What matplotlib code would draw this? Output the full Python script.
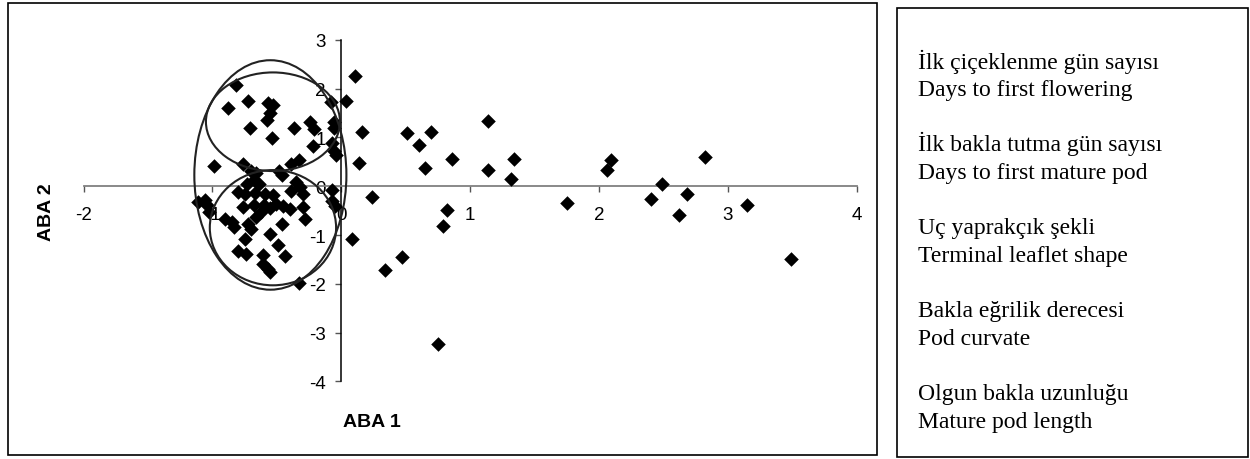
import matplotlib.pyplot as plt
from matplotlib.patches import Ellipse, Rectangle

# ABA 1 / ABA 2 scores
aba1 = [0.11, 0.04, 0.16, 0.51, 0.70, 0.60, 1.14, 0.14, 0.65, 0.86, 1.14, 1.34, 1.32,
        0.24, 0.82, 1.75, 0.79, 0.08, 0.47, 0.34, 0.75, 2.09, 2.06, 2.82, 2.49, 2.40,
        2.68, 2.62, 3.15, 3.49,
        -0.08, -0.06, -0.06, -0.07, -0.06, -0.04, -0.07, -0.07, -0.05,
        -0.82, -0.72, -0.88, -0.57, -0.53, -0.55, -0.58, -0.71, -0.37, -0.24, -0.21,
        -0.54, -0.22, -0.99, -0.76, -0.39, -0.33,
        -0.70, -0.66, -0.48, -0.46, -0.73, -0.68, -0.64, -0.35, -0.32,
        -0.80, -0.75, -0.67, -0.59, -0.53, -0.39, -0.30,
        -1.11, -1.06, -1.04, -0.76, -0.68, -0.60, -0.55, -0.51, -0.45, -0.40, -0.30,
        -1.03, -0.66, -0.62, -0.28, -0.90, -0.85, -0.83, -0.72, -0.70, -0.46,
        -0.55, -0.75, -0.49, -0.44, -0.80, -0.74, -0.61, -0.61, -0.57, -0.55, -0.33]
aba2 = [2.26, 1.75, 1.12, 1.08, 1.12, 0.85, 1.34, 0.48, 0.37, 0.56, 0.33, 0.56, 0.14,
        -0.23, -0.49, -0.34, -0.82, -1.09, -1.46, -1.71, -3.24, 0.53, 0.34, 0.59, 0.04, -0.26,
        -0.15, -0.60, -0.38, -1.50,
        1.73, 1.32, 1.20, 0.88, 0.73, 0.63, -0.07, -0.30, -0.40,
        2.07, 1.75, 1.60, 1.71, 1.66, 1.49, 1.35, 1.20, 1.20, 1.32, 1.18,
        0.98, 0.83, 0.42, 0.46, 0.46, 0.53,
        0.31, 0.27, 0.32, 0.22, 0.05, 0.12, 0.05, 0.09, -0.02,
        -0.12, -0.15, -0.14, -0.17, -0.19, -0.09, -0.15,
        -0.32, -0.29, -0.38, -0.43, -0.38, -0.38, -0.45, -0.36, -0.40, -0.47, -0.43,
        -0.53, -0.63, -0.53, -0.67, -0.67, -0.73, -0.84, -0.77, -0.87, -0.77,
        -0.97, -1.08, -1.21, -1.42, -1.32, -1.38, -1.40, -1.59, -1.69, -1.76, -1.98]

# group ellipses: centre x, centre y, width, height
ell_cx = [-0.55, -0.53, -0.53]
ell_cy = [0.23, 1.32, -0.85]
ell_w = [1.18, 1.04, 0.98]
ell_h = [4.70, 2.02, 2.36]

legend_lines = [
    ("İlk çiçeklenme gün sayısı", "Days to first flowering"),
    ("İlk bakla tutma gün sayısı", "Days to first mature pod"),
    ("Uç yaprakçık şekli", "Terminal leaflet shape"),
    ("Bakla eğrilik derecesi", "Pod curvate"),
    ("Olgun bakla uzunluğu", "Mature pod length"),
]

fig = plt.figure(figsize=(12.5, 4.6), dpi=100)
ax = fig.add_axes([0.0668, 0.1685, 0.6186, 0.743])

ax.scatter(aba1, aba2, marker='D', s=55, color='black', zorder=3, linewidths=0)
for cx, cy, w, h in zip(ell_cx, ell_cy, ell_w, ell_h):
    ax.add_patch(Ellipse((cx, cy), w, h, fill=False, edgecolor='#222222', lw=1.5, zorder=4))

ax.set_xlim(-2, 4)
ax.set_ylim(-4, 3)
ax.spines['left'].set_position(('data', 0))
ax.spines['bottom'].set_position(('data', 0))
ax.spines['top'].set_visible(False)
ax.spines['right'].set_visible(False)
ax.spines['bottom'].set_color('#808080')
ax.spines['left'].set_color('black')
ax.spines['bottom'].set_linewidth(1.3)
ax.spines['left'].set_linewidth(1.1)

ax.set_xticks(range(-2, 5))
ax.set_yticks(range(-4, 4))
ax.tick_params(axis='x', direction='out', length=4, width=1, color='#555555',
               pad=10, labelsize=13.5, labelfontfamily='Liberation Sans')
ax.tick_params(axis='y', direction='out', length=4, width=1, color='#555555',
               pad=7, labelsize=13.5, labelfontfamily='Liberation Sans')
ax.set_xticklabels([str(v) for v in range(-2, 5)])
ax.set_yticklabels([str(v) for v in range(-4, 4)])

fig.text(0.2972, 0.0826, "ABA 1", ha='center', va='center', fontsize=14,
         fontweight='bold', family='Liberation Sans')
fig.text(0.0373, 0.538, "ABA 2", ha='center', va='center', rotation=90, fontsize=14,
         fontweight='bold', family='Liberation Sans')

# frames
fig.patches.append(Rectangle((8 / 1250, 1 - 456 / 460), 869 / 1250, 452 / 460,
                             transform=fig.transFigure, fill=False, edgecolor='black', lw=1.2))
fig.patches.append(Rectangle((897 / 1250, 1 - 458 / 460), 351 / 1250, 449 / 460,
                             transform=fig.transFigure, fill=False, edgecolor='black', lw=1.2))

for i, (tr, en) in enumerate(legend_lines):
    base = 68.5 + i * 83
    fig.text(918 / 1250, 1 - base / 460, tr, ha='left', va='baseline', fontsize=17,
             family='Liberation Serif')
    fig.text(918 / 1250, 1 - (base + 27.5) / 460, en, ha='left', va='baseline', fontsize=17,
             family='Liberation Serif')

fig.savefig('out.png', dpi=100)
